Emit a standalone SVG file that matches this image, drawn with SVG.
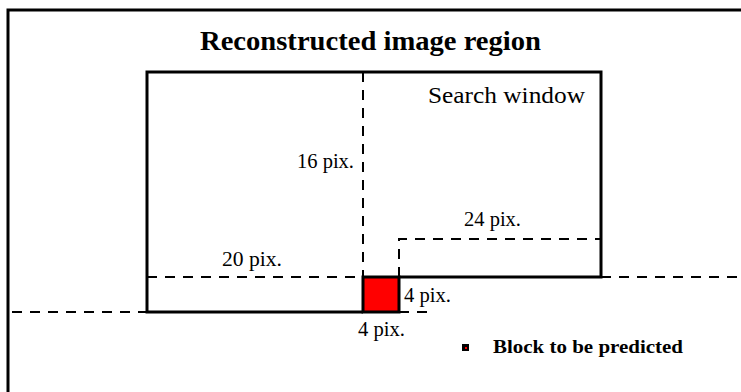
<svg xmlns="http://www.w3.org/2000/svg" width="741" height="392" viewBox="0 0 741 392">
<style>
.solid{fill:none;stroke:#000;stroke-width:3}
.dash{fill:none;stroke:#000;stroke-width:2;stroke-dasharray:10,8}
.lbl{font-family:"Liberation Serif",serif;font-size:20px;fill:#000}
.ttl{font-family:"Liberation Serif",serif;font-weight:bold;font-size:28px;fill:#000}
</style>
<rect width="741" height="392" fill="#fff"/>
<g id="frame"><path d="M8,392 V10 H741" class="solid" stroke-width="2"/></g>
<text class="ttl" x="200" y="50" textLength="341" lengthAdjust="spacingAndGlyphs">Reconstructed image region</text>
<g id="search-window">
<path class="solid" d="M399,277 H601 V72 H147 V312 H363"/>
<text class="lbl" x="428" y="103" style="font-size:24px" textLength="157" lengthAdjust="spacingAndGlyphs">Search window</text>
</g>
<g id="connectors">
<path class="dash" d="M363,72 V277"/>
<path class="dash" d="M147,277 H363"/>
<path class="dash" d="M399,277 V239 H601"/>
<path class="dash" d="M601,277 H741"/>
<path class="dash" d="M12,312 H147"/>
<path class="dash" d="M399,312 H432"/>
</g>
<g id="block">
<rect x="363" y="277" width="36" height="35" fill="#f00" stroke="#000" stroke-width="3"/>
</g>
<g id="labels">
<text class="lbl" x="297" y="168" textLength="57" lengthAdjust="spacingAndGlyphs">16 pix.</text>
<text class="lbl" x="464" y="226" textLength="57" lengthAdjust="spacingAndGlyphs">24 pix.</text>
<text class="lbl" x="222" y="266" textLength="60" lengthAdjust="spacingAndGlyphs">20 pix.</text>
<text class="lbl" x="404" y="302" textLength="47" lengthAdjust="spacingAndGlyphs">4 pix.</text>
<text class="lbl" x="358" y="336" textLength="47" lengthAdjust="spacingAndGlyphs">4 pix.</text>
</g>
<g id="legend">
<rect x="462" y="344" width="7" height="7" fill="#000"/>
<rect x="465" y="347" width="2" height="2" fill="#f00"/>
<text x="493" y="353" textLength="190" lengthAdjust="spacingAndGlyphs" style="font-family:'Liberation Serif',serif;font-weight:bold;font-size:19px">Block to be predicted</text>
</g>
</svg>
